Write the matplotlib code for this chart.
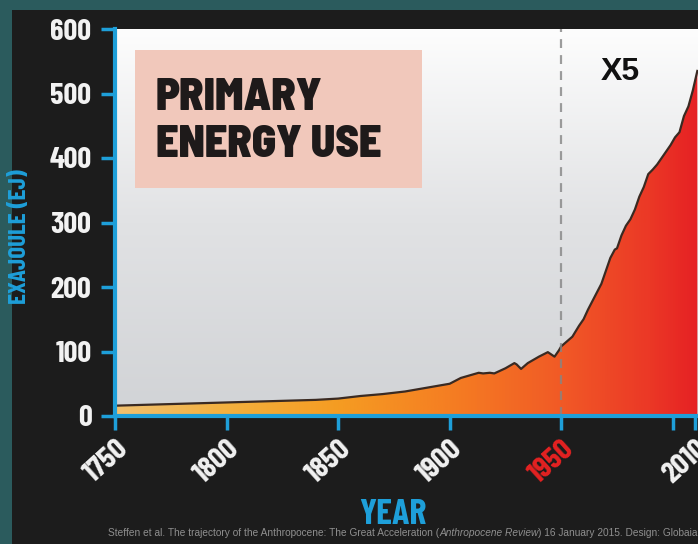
import numpy as np
import matplotlib
matplotlib.use("Agg")
import matplotlib.pyplot as plt
from matplotlib import font_manager as fm
from matplotlib.colors import LinearSegmentedColormap
from matplotlib.patches import Polygon, Rectangle

# ---------------- data ----------------
years = [1750, 1760, 1780, 1800, 1820, 1840, 1850, 1860, 1870, 1880, 1890, 1900,
         1905, 1910, 1913, 1915, 1918, 1920, 1925, 1929, 1930, 1932, 1935, 1940,
         1944, 1947, 1949, 1950, 1952, 1955, 1958, 1960, 1962, 1965, 1968, 1970,
         1972, 1974, 1975, 1977, 1979, 1981, 1983, 1985, 1987, 1989, 1991, 1993,
         1995, 1997, 1999, 2001, 2003, 2005, 2007, 2009, 2011]
energy_ej = [16, 17, 19, 21, 23, 25, 27, 31, 34, 38, 44, 50,
             59, 64, 67, 66, 67, 66, 74, 82, 80, 73, 82, 92,
             99, 92, 102, 108, 114, 123, 140, 150, 165, 185, 205, 225,
             245, 258, 260, 280, 295, 305, 320, 340, 355, 375, 382, 390,
             400, 410, 420, 432, 440, 465, 480, 505, 535]
x_ticks = [1750, 1800, 1850, 1900, 1950, 2000, 2010]
x_tick_labels = ["1750", "1800", "1850", "1900", "1950", "", "2010"]
y_ticks = [0, 100, 200, 300, 400, 500, 600]
highlight_year = 1950

# ---------------- fonts ----------------
def pick(cands):
    for c in cands:
        try:
            fm.findfont(fm.FontProperties(family=c), fallback_to_default=False)
            return c
        except Exception:
            pass
    return "DejaVu Sans"

COND = pick(["Barlow Condensed", "Roboto Condensed", "Fira Sans Condensed", "DejaVu Sans"])
SEMI = pick(["Barlow Semi Condensed", "Barlow Condensed", "DejaVu Sans"])
SANS = pick(["Liberation Sans", "DejaVu Sans"])

W, H = 698, 544
BLUE = "#1e9fd9"
fig = plt.figure(figsize=(W / 100, H / 100), dpi=100, facecolor="#2b5b5d")

# black panel
fig.patches.append(Rectangle((12 / W, 0), 1 - 12 / W, 1 - 10 / H,
                             transform=fig.transFigure, facecolor="#1c1c1c",
                             edgecolor="none", zorder=-10))

ax = fig.add_axes([115 / W, 128 / H, 583 / W, 387 / H])
xmin, xmax = 1750, 2011.3
ax.set_xlim(xmin, xmax)
ax.set_ylim(0, 600)

# plot-area vertical gradient background
bg_cmap = LinearSegmentedColormap.from_list("bg", ["#d1d3d6", "#e1e2e4", "#fdfdfd"])
ax.imshow(np.linspace(0, 1, 256).reshape(-1, 1), cmap=bg_cmap, aspect="auto",
          extent=(xmin, xmax, 0, 600), origin="lower", zorder=0)

# gradient-filled area
pos = lambda yr: (yr - xmin) / (xmax - xmin)
fill_cmap = LinearSegmentedColormap.from_list("fill", [
    (0.0, "#f0c070"), (pos(1800), "#f3b03e"), (pos(1850), "#f59c22"),
    (pos(1900), "#f57e22"), (pos(1950), "#f15a26"), (pos(1990), "#eb3826"),
    (1.0, "#e62124")])
poly = Polygon(np.column_stack([[years[0]] + years + [years[-1]],
                                [0] + energy_ej + [0]]),
               closed=True, facecolor="none", edgecolor="none")
ax.add_patch(poly)
im = ax.imshow(np.linspace(0, 1, 512).reshape(1, -1), cmap=fill_cmap, aspect="auto",
               extent=(xmin, xmax, 0, 600), origin="lower", zorder=1)
im.set_clip_path(poly)
ax.plot(years, energy_ej, color="#3a2a22", lw=1.6, zorder=3)

ax.axvline(highlight_year, color="#858585", alpha=0.8, lw=1.6,
           ls=(0, (4, 3.2)), zorder=4)

# spines and ticks
for s in ["top", "right"]:
    ax.spines[s].set_visible(False)
for s in ["left", "bottom"]:
    ax.spines[s].set_color(BLUE)
    ax.spines[s].set_linewidth(3)
    ax.spines[s].set_zorder(5)

ax.set_yticks(y_ticks)
ax.set_yticklabels([str(v) for v in y_ticks])
ax.set_xticks(x_ticks)
ax.set_xticklabels(x_tick_labels)
ax.tick_params(axis="both", colors=BLUE, length=10, width=2.5, direction="out")
ax.tick_params(axis="y", pad=7)
ax.tick_params(axis="x", pad=4)
for lab in ax.get_yticklabels():
    lab.set_fontfamily(COND)
    lab.set_fontweight("bold")
    lab.set_fontsize(22)
    lab.set_color("#f2f2f2")
for lab in ax.get_xticklabels():
    lab.set_fontfamily(COND)
    lab.set_fontweight("bold")
    lab.set_fontsize(22)
    lab.set_color("#e52222" if lab.get_text() == str(highlight_year) else "#f2f2f2")
    lab.set_rotation(42)
    lab.set_ha("right")
    lab.set_va("top")
    lab.set_rotation_mode("anchor")

# title box
fig.patches.append(Rectangle((135 / W, 1 - 188 / H), 287 / W, 138 / H,
                             transform=fig.transFigure, facecolor="#f1c8bb",
                             edgecolor="none", zorder=6))
fig.text(156 / W, 1 - 110 / H, "PRIMARY", fontfamily=SEMI, fontweight=900,
         fontsize=32, color="#1e1a1a", va="baseline", zorder=7)
fig.text(156 / W, 1 - 157 / H, "ENERGY USE", fontfamily=SEMI, fontweight=900,
         fontsize=32, color="#1e1a1a", va="baseline", zorder=7)

fig.text(620 / W, 1 - 72 / H, "X5", fontfamily=SANS, fontweight="bold",
         fontsize=23, color="#111111", ha="center", va="center", zorder=7)

fig.text(20 / W, 1 - 237 / H, "EXAJOULE (EJ)", fontfamily=COND, fontweight="bold",
         fontsize=18, color=BLUE, rotation=90, ha="center", va="center")
fig.text(393 / W, 1 - 515 / H, "YEAR", fontfamily=COND, fontweight="bold",
         fontsize=26, color=BLUE, ha="center", va="center")

# citation line (regular / italic / regular)
renderer = fig.canvas.get_renderer()
parts = [("Steffen et al. The trajectory of the Anthropocene: The Great Acceleration (", "normal"),
         ("Anthropocene Review", "italic"),
         (") 16 January 2015. Design: Globaia", "normal")]
xpix = 108
for txt, style in parts:
    t = fig.text(xpix / W, 1 - 533 / H, txt, fontfamily=SANS, fontstyle=style,
                 fontsize=7.3, color="#8f8f8f", va="center", ha="left")
    bb = t.get_window_extent(renderer=renderer)
    xpix += bb.width

fig.savefig("out.png", dpi=100, facecolor=fig.get_facecolor())
